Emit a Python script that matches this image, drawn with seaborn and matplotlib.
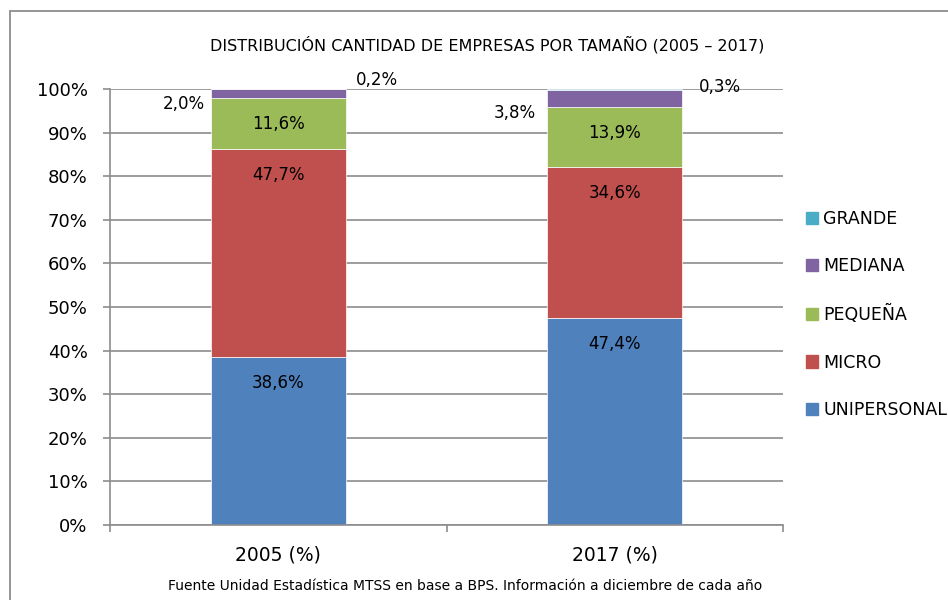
import numpy as np
import pandas as pd
import matplotlib.pyplot as plt
import matplotlib.patches as mpatches
import seaborn as sns

sns.set_theme(style="white")
plt.rcParams["font.family"] = ["DejaVu Sans"]
plt.rcParams["text.color"] = "black"
plt.rcParams["xtick.labelcolor"] = "black"
plt.rcParams["ytick.labelcolor"] = "black"

# -----------------------------
# DATA
# -----------------------------
years = ["2005 (%)", "2017 (%)"]
sizes = ["UNIPERSONAL", "MICRO", "PEQUEÑA", "MEDIANA", "GRANDE"]
unipersonal = [38.6, 47.4]
micro = [47.7, 34.6]
pequena = [11.6, 13.9]
mediana = [2.0, 3.8]
grande = [0.2, 0.3]

colors = ["#4F81BD", "#C0504D", "#9BBB59", "#8064A2", "#4BACC6"]
grid_col = "#8c8c8c"

df = pd.DataFrame({
    "year": years,
    "UNIPERSONAL": unipersonal,
    "MICRO": micro,
    "PEQUEÑA": pequena,
    "MEDIANA": mediana,
    "GRANDE": grande,
})

# -----------------------------
# FIGURE
# -----------------------------
fig = plt.figure(figsize=(9.48, 6), dpi=100)
ax = fig.add_axes([0.116, 0.125, 0.71, 0.7267])

bar_w = 0.4
bottom = np.zeros(len(years))
tops = {}
for size, col in zip(sizes, colors):
    vals = df[size].values / 100
    sns.barplot(x=df["year"], y=vals, bottom=bottom, color=col, width=bar_w,
                saturation=1, edgecolor="white", linewidth=0.5, ax=ax, zorder=2)
    bottom = bottom + vals
    tops[size] = bottom.copy()

# labels inside (inside end) for the big segments
px = 0.72  # pixels -> points at dpi 100
for size in ["UNIPERSONAL", "MICRO", "PEQUEÑA"]:
    for i in range(len(years)):
        ax.annotate(f"{df[size][i]:.1f}".replace(".", ",") + "%",
                    (i, tops[size][i]), xytext=(0, -26 * px),
                    textcoords="offset points", ha="center", va="center",
                    fontsize=12, color="black", zorder=5)

# small segments, labels dragged outside the bars
small_offsets = {
    ("MEDIANA", 0): (-bar_w / 2, -27, -10),
    ("MEDIANA", 1): (-bar_w / 2, -33, -14),
    ("GRANDE", 0): (bar_w / 2, 31, 9),
    ("GRANDE", 1): (bar_w / 2, 38, 2),
}
for (size, i), (dx, ox, oy) in small_offsets.items():
    mid = tops[size][i] - df[size][i] / 200
    if size == "GRANDE":
        mid = tops[size][i]
    ax.annotate(f"{df[size][i]:.1f}".replace(".", ",") + "%",
                (i + dx, mid), xytext=(ox * px, oy * px),
                textcoords="offset points", ha="center", va="center",
                fontsize=12, color="black", zorder=5, annotation_clip=False)

# -----------------------------
# AXES STYLE
# -----------------------------
ax.set_xlim(-0.5, 1.5)
ax.set_ylim(0, 1)
yt = np.arange(0, 1.01, 0.1)
ax.set_yticks(yt)
ax.set_yticklabels([f"{int(round(v * 100))}%" for v in yt])
ax.yaxis.grid(True, color=grid_col, linewidth=1.2)
ax.xaxis.grid(False)
ax.set_axisbelow(True)

ax.set_xticks([0, 1])
ax.set_xticklabels(years)
ax.set_xticks([-0.5, 0.5, 1.5], minor=True)
ax.set_xlabel("")
ax.set_ylabel("")

ax.tick_params(axis="y", which="major", left=True, length=5, width=1.2,
               color=grid_col, direction="out", labelsize=13, pad=11)
ax.tick_params(axis="x", which="major", length=0, labelsize=13.5, pad=15)
ax.tick_params(axis="x", which="minor", bottom=True, length=5, width=1.2,
               color=grid_col, direction="out")

for s in ["top", "right"]:
    ax.spines[s].set_visible(False)
for s in ["left", "bottom"]:
    ax.spines[s].set_color(grid_col)
    ax.spines[s].set_linewidth(1.2)

# legend (top to bottom: GRANDE ... UNIPERSONAL)
handles = [mpatches.Patch(color=c, label=s) for s, c in zip(sizes, colors)][::-1]
fig.legend(handles=handles, loc="center left",
           bbox_to_anchor=(806 / 948, 1 - 314.5 / 600),
           bbox_transform=fig.transFigure, frameon=False, fontsize=12.5,
           handlelength=0.7, handleheight=0.7, handletextpad=0.3,
           labelspacing=1.7, borderpad=0, borderaxespad=0)

fig.text(487 / 948, 1 - 45 / 600,
         "DISTRIBUCIÓN CANTIDAD DE EMPRESAS POR TAMAÑO (2005 – 2017)",
         ha="center", va="center", fontsize=11.5)
fig.text(465.5 / 948, 1 - 586 / 600,
         "Fuente Unidad Estadística MTSS en base a BPS. Información a diciembre de cada año",
         ha="center", va="center", fontsize=10)

# outer chart frame
frame = mpatches.Rectangle((10 / 948, -0.05), 1.1, (1 - 11 / 600) + 0.05,
                           transform=fig.transFigure, fill=False,
                           edgecolor=grid_col, linewidth=1.3)
fig.add_artist(frame)

fig.savefig("out.png", dpi=100)
plt.close()
